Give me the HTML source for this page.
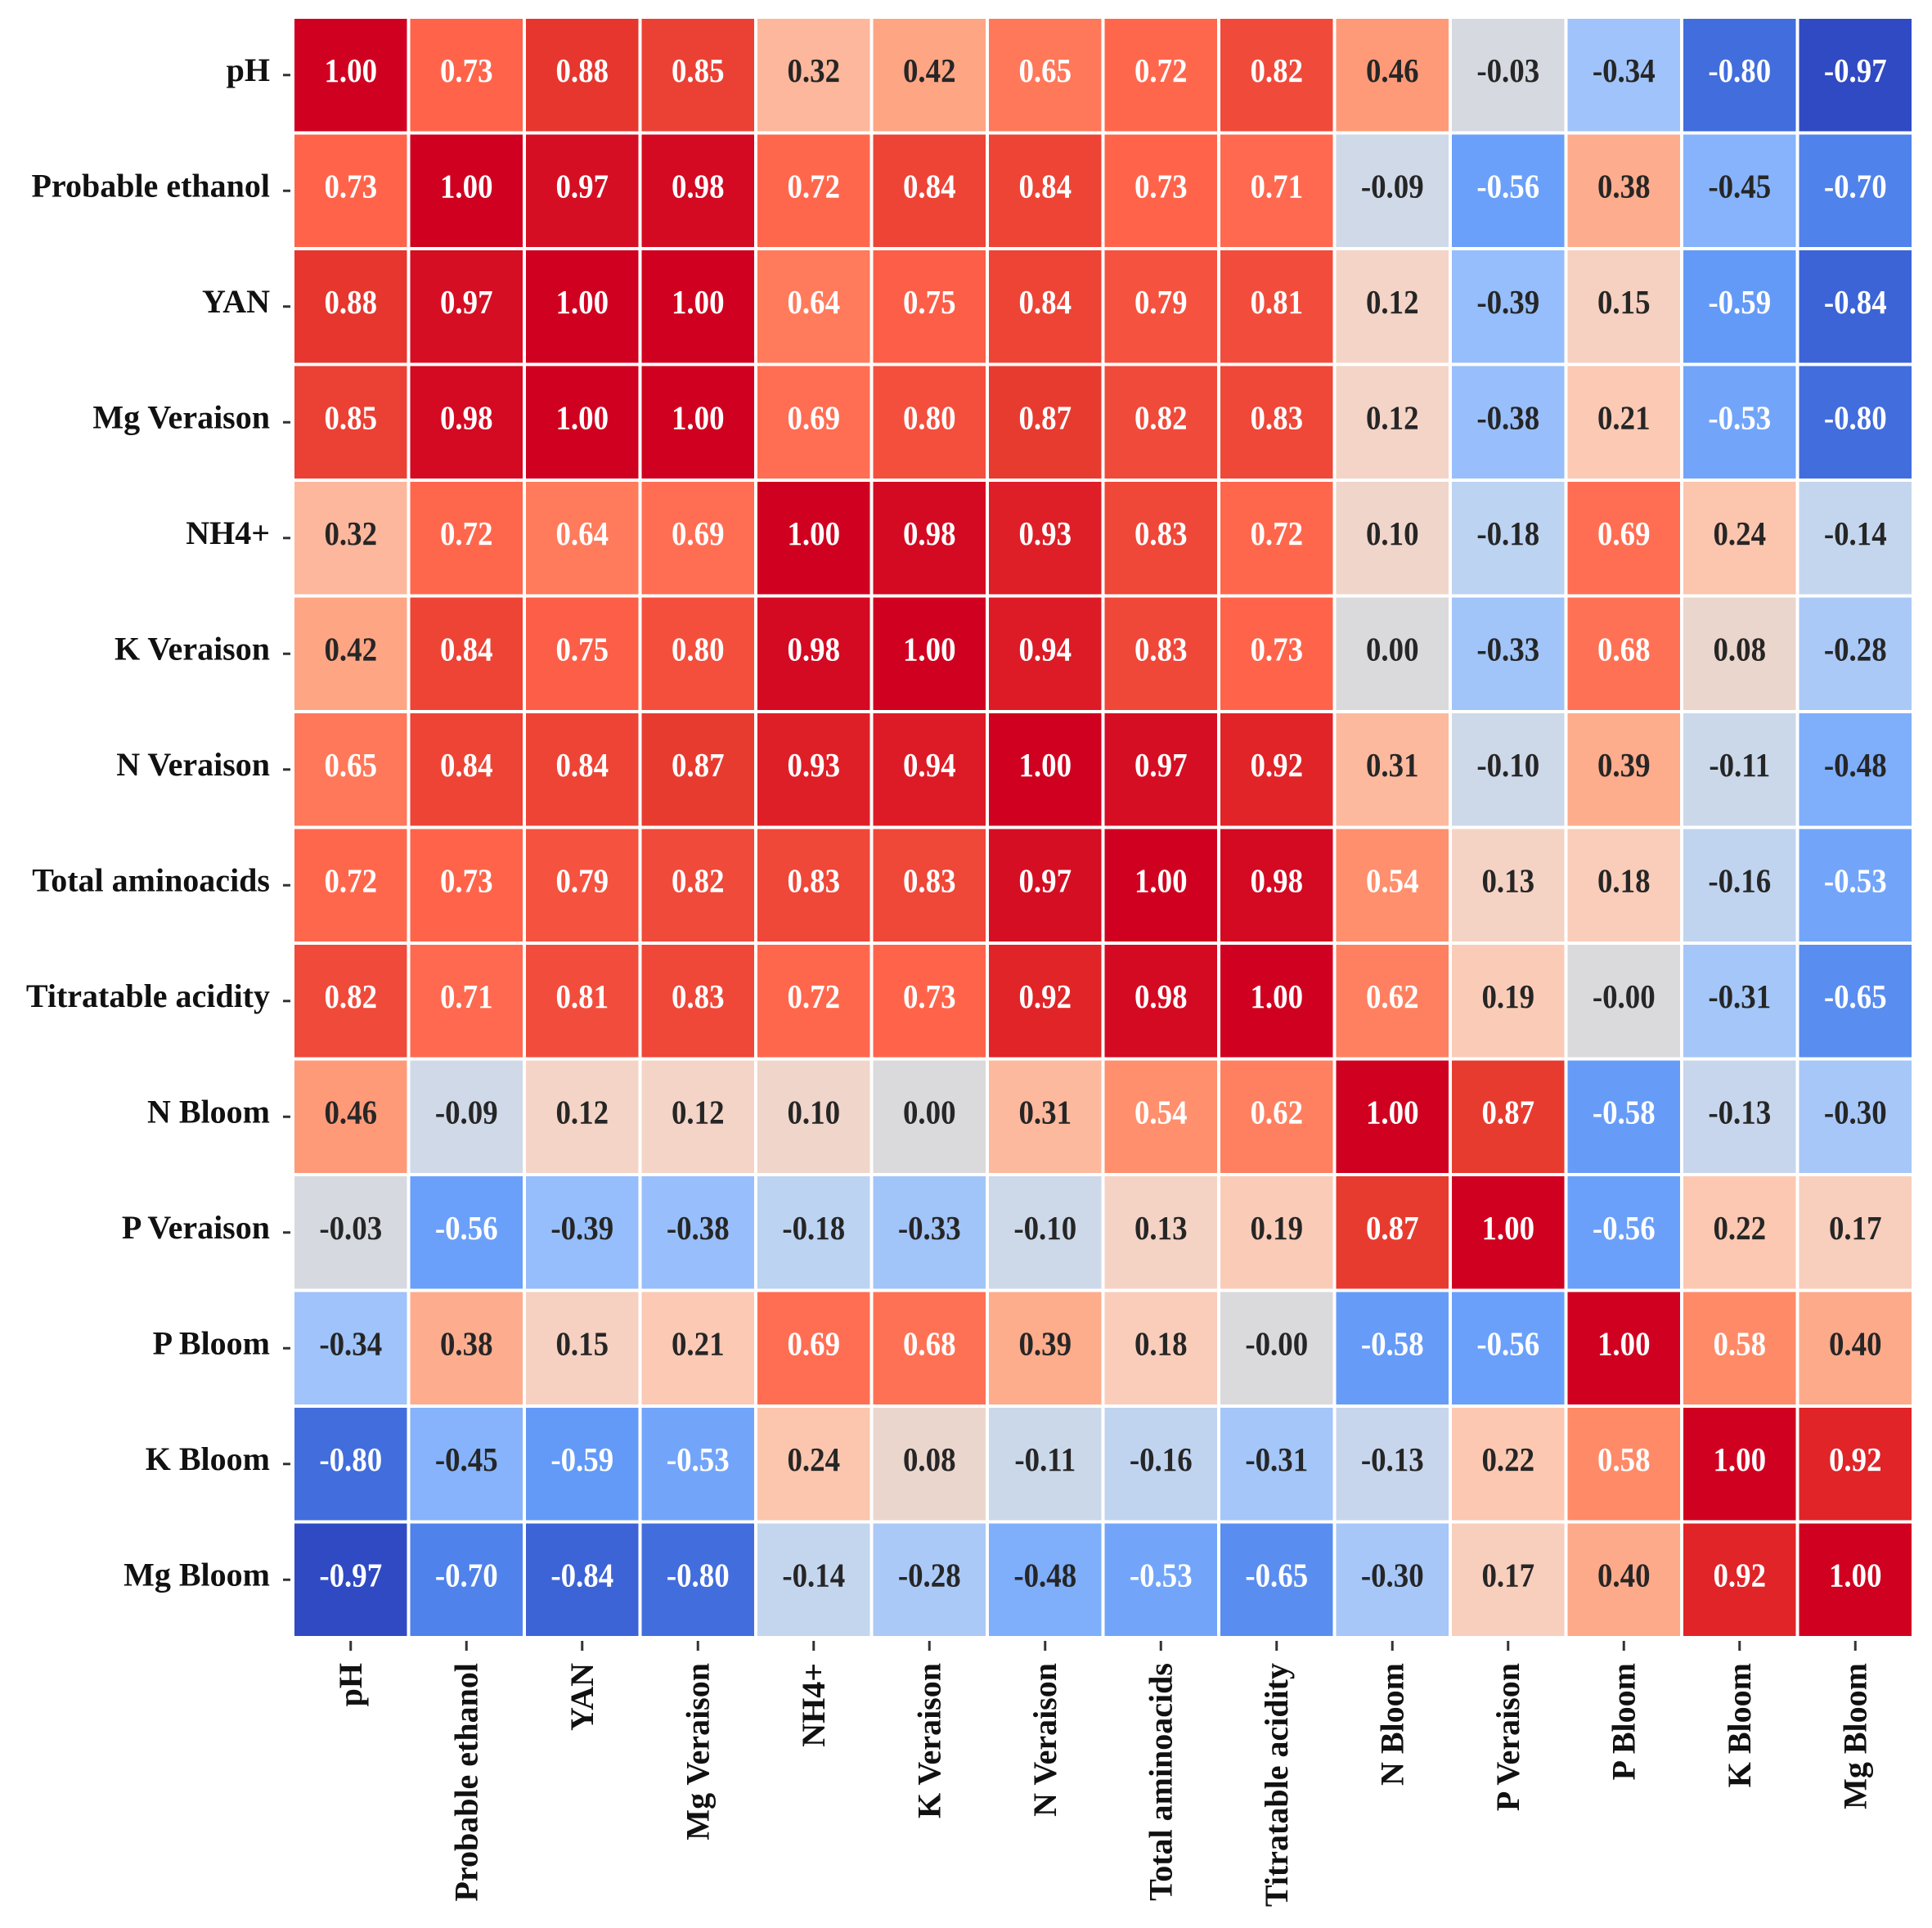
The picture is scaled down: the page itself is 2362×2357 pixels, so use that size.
<!DOCTYPE html>
<html><head><meta charset="utf-8"><style>
html,body{margin:0;padding:0;background:#fff;}
svg{display:block;}
</style></head><body>
<svg id="chart" width="2362" height="2357" viewBox="0 0 2362 2357" xmlns="http://www.w3.org/2000/svg">
<rect width="2362" height="2357" fill="#fff"/>
<g id="cells"></g>
<g id="ylabels"></g>
<g id="xlabels"></g>
</svg>
<script>
const labels = ["pH","Probable ethanol","YAN","Mg Veraison","NH4+","K Veraison","N Veraison","Total aminoacids","Titratable acidity","N Bloom","P Veraison","P Bloom","K Bloom","Mg Bloom"];
const row0 = [1.00,0.73,0.88,0.85,0.32,0.42,0.65,0.72,0.82,0.46,-0.03,-0.34,-0.80,-0.97];
const row1 = [0.73,1.00,0.97,0.98,0.72,0.84,0.84,0.73,0.71,-0.09,-0.56,0.38,-0.45,-0.70];
const row2 = [0.88,0.97,1.00,1.00,0.64,0.75,0.84,0.79,0.81,0.12,-0.39,0.15,-0.59,-0.84];
const row3 = [0.85,0.98,1.00,1.00,0.69,0.80,0.87,0.82,0.83,0.12,-0.38,0.21,-0.53,-0.80];
const row4 = [0.32,0.72,0.64,0.69,1.00,0.98,0.93,0.83,0.72,0.10,-0.18,0.69,0.24,-0.14];
const row5 = [0.42,0.84,0.75,0.80,0.98,1.00,0.94,0.83,0.73,0.00,-0.33,0.68,0.08,-0.28];
const row6 = [0.65,0.84,0.84,0.87,0.93,0.94,1.00,0.97,0.92,0.31,-0.10,0.39,-0.11,-0.48];
const row7 = [0.72,0.73,0.79,0.82,0.83,0.83,0.97,1.00,0.98,0.54,0.13,0.18,-0.16,-0.53];
const row8 = [0.82,0.71,0.81,0.83,0.72,0.73,0.92,0.98,1.00,0.62,0.19,-0.00,-0.31,-0.65];
const row9 = [0.46,-0.09,0.12,0.12,0.10,0.00,0.31,0.54,0.62,1.00,0.87,-0.58,-0.13,-0.30];
const row10 = [-0.03,-0.56,-0.39,-0.38,-0.18,-0.33,-0.10,0.13,0.19,0.87,1.00,-0.56,0.22,0.17];
const row11 = [-0.34,0.38,0.15,0.21,0.69,0.68,0.39,0.18,-0.00,-0.58,-0.56,1.00,0.58,0.40];
const row12 = [-0.80,-0.45,-0.59,-0.53,0.24,0.08,-0.11,-0.16,-0.31,-0.13,0.22,0.58,1.00,0.92];
const row13 = [-0.97,-0.70,-0.84,-0.80,-0.14,-0.28,-0.48,-0.53,-0.65,-0.30,0.17,0.40,0.92,1.00];
const matrix = [row0,row1,row2,row3,row4,row5,row6,row7,row8,row9,row10,row11,row12,row13];

const NS = "http://www.w3.org/2000/svg";
const L = 358, T = 21, R = 2339, B = 2002;
const n = labels.length;
const cw = (R - L) / n, ch = (B - T) / n;
function xPos(i){ return L + i * cw; }
function yPos(j){ return T + j * ch; }

const stops = [
 [-1,[45,68,190]],[-0.84,[60,100,215]],[-0.7,[80,130,235]],[-0.56,[106,160,250]],
 [-0.39,[150,190,252]],[-0.18,[188,211,242]],[-0.09,[207,217,232]],[0,[218,218,220]],
 [0.12,[244,212,198]],[0.22,[252,200,178]],[0.40,[253,170,138]],[0.46,[255,154,120]],
 [0.58,[255,138,104]],[0.73,[255,100,75]],[0.87,[232,59,48]],[0.92,[224,36,40]],[1,[208,0,32]]
];
function color(v){
  v = Math.max(-1, Math.min(1, v));
  for (let k = 0; k < stops.length - 1; k++){
    const a = stops[k], b = stops[k+1];
    if (v >= a[0] && v <= b[0]){
      const t = (v - a[0]) / (b[0] - a[0] || 1);
      const c = a[1].map((x,i)=>Math.round(x + (b[1][i]-x)*t));
      return `rgb(${c[0]},${c[1]},${c[2]})`;
    }
  }
  return "rgb(208,0,32)";
}
function fmt(v){ return (Object.is(v,-0) ? "-" : "") + v.toFixed(2); }

const cells = document.getElementById('cells');
for (let j = 0; j < n; j++){
  for (let i = 0; i < n; i++){
    const v = matrix[j][i];
    const r = document.createElementNS(NS, 'rect');
    r.setAttribute('x', xPos(i) + 2);
    r.setAttribute('y', yPos(j) + 2);
    r.setAttribute('width', cw - 4);
    r.setAttribute('height', ch - 4);
    r.setAttribute('fill', color(v));
    
    
    cells.appendChild(r);
    const t = document.createElementNS(NS, 'text');
    const cx = xPos(i) + cw / 2, cy = yPos(j) + ch / 2 + 8;
    t.setAttribute('transform', `translate(${cx},${cy}) scale(0.9,1)`);
    t.setAttribute('text-anchor', 'middle');
    t.setAttribute('font-family', '"Liberation Serif", serif');
    t.setAttribute('font-weight', 'bold');
    t.setAttribute('font-size', '41');
    t.setAttribute('fill', Math.abs(v) > 0.5 ? '#ffffff' : '#262626');
    t.textContent = fmt(v);
    
    
    cells.appendChild(t);
  }
}

const yl = document.getElementById('ylabels');
const xl = document.getElementById('xlabels');
for (let k = 0; k < n; k++){
  const cy = yPos(k) + ch / 2;
  const tk = document.createElementNS(NS, 'line');
  tk.setAttribute('x1', 346); tk.setAttribute('x2', 355);
  tk.setAttribute('y1', cy); tk.setAttribute('y2', cy);
  tk.setAttribute('stroke', '#333'); tk.setAttribute('stroke-width', 3);
  
  
  yl.appendChild(tk);
  const t = document.createElementNS(NS, 'text');
  t.setAttribute('x', 330); t.setAttribute('y', cy + 7);
  t.setAttribute('text-anchor', 'end');
  t.setAttribute('font-family', '"Liberation Serif", serif');
  t.setAttribute('font-weight', 'bold');
  t.setAttribute('font-size', '40');
  t.setAttribute('fill', '#111');
  t.textContent = labels[k];
  
  
  yl.appendChild(t);

  const cx = xPos(k) + cw / 2;
  const tx = document.createElementNS(NS, 'line');
  tx.setAttribute('x1', cx); tx.setAttribute('x2', cx);
  tx.setAttribute('y1', 2006); tx.setAttribute('y2', 2018);
  tx.setAttribute('stroke', '#333'); tx.setAttribute('stroke-width', 3);
  
  
  xl.appendChild(tx);
  const u = document.createElementNS(NS, 'text');
  u.setAttribute('transform', `translate(${cx + 13},2033) rotate(-90)`);
  u.setAttribute('text-anchor', 'end');
  u.setAttribute('font-family', '"Liberation Serif", serif');
  u.setAttribute('font-weight', 'bold');
  u.setAttribute('font-size', '40');
  u.setAttribute('fill', '#111');
  u.textContent = labels[k];
  
  
  xl.appendChild(u);
}
</script>
</body></html>
